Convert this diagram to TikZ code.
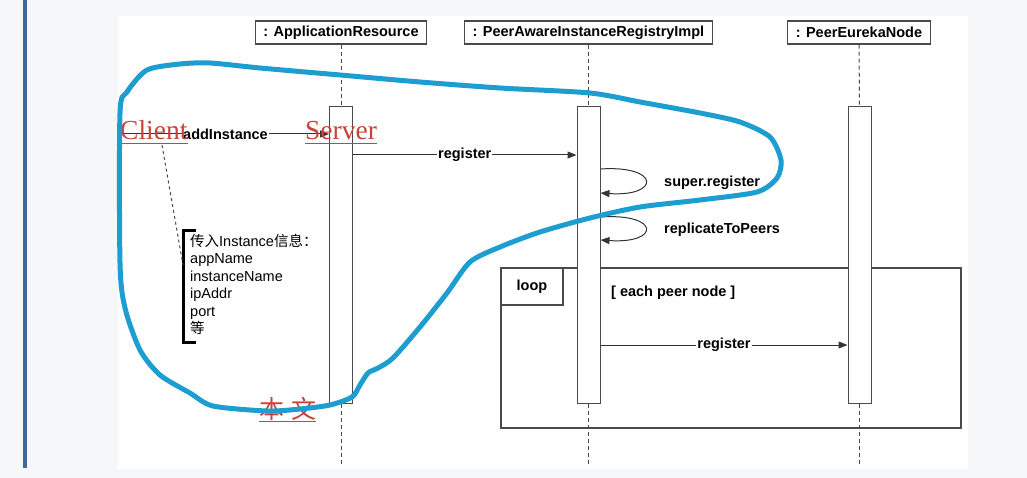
\documentclass[tikz,border=0pt]{standalone}
\usepackage{fontspec}
\setmainfont{Liberation Sans}
\newfontfamily\handserif{Liberation Serif}
\newfontfamily\cjk{Noto Sans CJK SC}
\usetikzlibrary{arrows.meta}
\definecolor{bgcol}{HTML}{F6F7F8}
\definecolor{barcol}{HTML}{3B6A96}
\definecolor{linecol}{HTML}{333333}
\definecolor{boxcol}{HTML}{4A4A4A}
\definecolor{handred}{HTML}{C8443A}
\definecolor{handblue}{HTML}{1E9ED0}
\begin{document}
\begin{tikzpicture}[x=1pt,y=-1pt,
  header/.style={draw=boxcol, line width=1.2pt, fill=white, font=\fontsize{14.5}{17}\selectfont\bfseries, inner xsep=8pt, minimum height=23pt},
  act/.style={draw=boxcol, line width=1pt, fill=white, minimum width=23pt, minimum height=296pt, inner sep=0pt},
  life/.style={draw=boxcol, line width=1pt, dash pattern=on 4pt off 3pt},
  msg/.style={draw=linecol, line width=1pt, -{Triangle[length=9pt,width=7pt]}},
  lab/.style={fill=white, font=\fontsize{14.5}{17}\selectfont\bfseries, inner sep=1pt},
  txt/.style={font=\fontsize{14.5}{17}\selectfont\bfseries, inner sep=0pt},
  frame/.style={draw=boxcol, line width=1.3pt},
  hand/.style={text=handred, inner sep=0pt, font=\handserif\fontsize{27.5}{30}\selectfont},
  handline/.style={draw=handred, line width=0.8pt},
  notelink/.style={draw=boxcol, line width=1pt, dash pattern=on 3pt off 3pt},
  blueloop/.style={draw=handblue, line width=5pt, line join=round}]
\useasboundingbox (0,0) rectangle (1027,478);
% background
\fill[bgcol] (0,0) rectangle (1027,478);
\fill[white] (118,16) rectangle (968,469);
\fill[barcol] (23,0) rectangle (27,468);
% lifeline headers
\node[header] (hApp) at (341,32.5) {: ApplicationResource};
\node[header] (hPAIR) at (588.5,32.5) {: PeerAwareInstanceRegistryImpl};
\node[header] (hPEN) at (859,32.5) {: PeerEurekaNode};
% end points of lifelines
\coordinate (eApp) at (341,465);
\coordinate (ePAIR) at (588.5,465);
\coordinate (ePEN) at (859.5,465);
% loop frame
\node[frame, minimum width=460pt, minimum height=160pt, inner sep=0pt] (loopf) at (731,348) {};
% activations
\node[act] (aApp) at (341,255) {};
\node[act] (aPAIR) at (588.5,255) {};
\node[act] (aPEN) at (859.5,255) {};
\draw[life] (hApp.south) -- (aApp.north);
\draw[life] (hPAIR.south) -- (aPAIR.north);
\draw[life] (hPEN.south) -- (aPEN.north);
\draw[life] (aApp.south) -- (eApp);
\draw[life] (aPAIR.south) -- (ePAIR);
\draw[life] (aPEN.south) -- (ePEN);
\node[frame, minimum width=62pt, minimum height=37pt, anchor=north west, font=\fontsize{14.5}{17}\selectfont\bfseries] (tab) at (loopf.north west) {loop};
\node[txt, anchor=west] (guard) at (611,293) {[ each peer node ]};
% messages
\coordinate (m0) at (122,134);
\coordinate (m1) at (0,155);
\coordinate (s1a) at (0,169);
\coordinate (s1b) at (0,193);
\coordinate (s2a) at (0,217);
\coordinate (s2b) at (0,240);
\coordinate (m2) at (0,345);
\draw[msg] (m0) -- node[lab] (labAdd) {addInstance} (aApp.west |- m0);
\draw[msg] (aApp.east |- m1) -- node[lab] (labReg) {register} (aPAIR.west |- m1);
\draw[msg] (aPAIR.east |- s1a) .. controls +(60,-4) and +(60,4) .. (aPAIR.east |- s1b);
\draw[msg] (aPAIR.east |- s2a) .. controls +(60,-4) and +(60,4) .. (aPAIR.east |- s2b);
\node[txt, anchor=west] (labSuper) at (664,183) {super.register};
\node[txt, anchor=west] (labRep) at (664,230) {replicateToPeers};
\draw[msg] (aPAIR.east |- m2) -- node[lab] (labReg2) {register} (aPEN.west |- m2);
% note
\node[anchor=north west, inner sep=0pt, align=left, font=\fontsize{14.5}{17.4}\selectfont] (note) at (190,234)
  {{\cjk 传入}Instance{\cjk 信息：}\\appName\\instanceName\\ipAddr\\port\\{\cjk 等}};
\draw[line width=3pt] (196,231) -- (183,231) -- (183,342) -- (196,342);
\coordinate (nb) at (183,265);
% handwritten annotations
\node[hand, anchor=base west] (client) at (120,140) {Client};
\draw[handline] ([yshift=-3pt]client.base west) -- ([yshift=-3pt]client.base east);
\node[hand, anchor=base west] (server) at (305,140) {Server};
\draw[handline] ([yshift=-3pt]server.base west) -- ([yshift=-3pt]server.base east);
\coordinate (cA) at (162,145);
\draw[notelink] (cA) -- (nb);
\node[text=handred, inner sep=0pt, anchor=base west, font=\cjk\fontsize{25}{28}\selectfont] (benwen) at (259,418) {本\hspace{7pt}文};
\draw[handline] ([yshift=-3pt]benwen.base west) -- ([yshift=-3pt]benwen.base east);
\draw[blueloop] plot[smooth cycle, tension=0.45] coordinates {
 (120,113) (127,92) (147,70) (180,64) (210,63) (260,68) (340,75) (420,82) (500,88)
 (590,93) (640,102) (700,113) (740,122) (770,137) (781,160) (777,178) (757,192)
 (700,200) (640,207) (590,218) (540,232) (500,247) (470,262) (447,293) (420,327)
 (393,358) (378,368) (368,373) (360,385) (352,397) (330,405) (300,409) (267,411)
 (213,406) (190,393) (160,375) (140,350) (125,308) (120,263)};
\end{tikzpicture}
\end{document}
